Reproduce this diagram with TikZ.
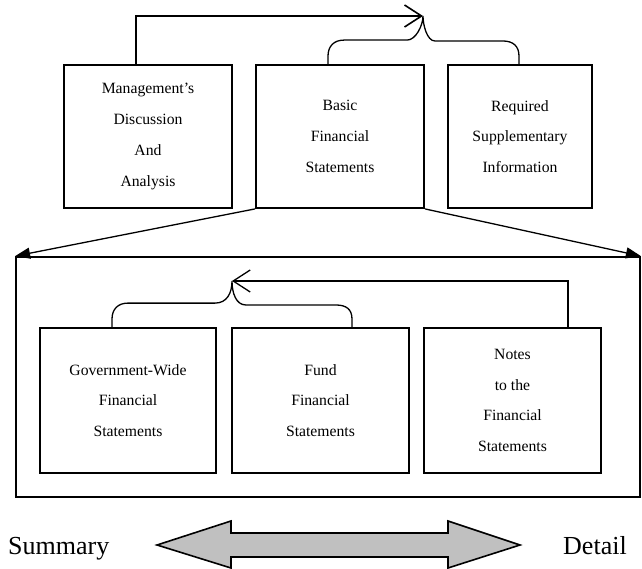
\documentclass[tikz,border=0pt]{standalone}
\usepackage{fontspec}
\setmainfont{Liberation Serif}
\usetikzlibrary{arrows.meta,calc}
\definecolor{arrowgray}{HTML}{C0C0C0}
\begin{document}
\begin{tikzpicture}[x=1pt,y=-1pt,
  box/.style={draw, line width=1.8pt, inner sep=0pt, align=center,
    font=\fontsize{15.7}{30.7}\selectfont},
  topbox/.style={box, minimum height=143pt},
  innerbox/.style={box, minimum height=145pt, minimum width=177pt},
  conn/.style={line width=1.6pt},
  thin/.style={line width=1.3pt},
  barb/.style={-{Straight Barb[length=17pt,width=22pt]}},
  filltip/.style={-{Triangle[length=15pt,width=11pt]}},
  bigtext/.style={anchor=base west, inner sep=0pt, font=\fontsize{26}{30}\selectfont}
]
\useasboundingbox (0,0) rectangle (642,569);

% top boxes
\node[topbox, minimum width=168pt] (mda) at (148,136.5) {Management’s\\Discussion\\And\\Analysis};
\node[topbox, minimum width=168pt] (basic) at (340,136.5) {Basic\\Financial\\Statements};
\node[topbox, minimum width=144pt] (rsi) at (520,136.5) {Required\\Supplementary\\Information};

% frame
\node[draw, line width=1.8pt, minimum width=624pt, minimum height=240pt, inner sep=0pt] (frame) at (328,377) {};

% inner boxes
\node[innerbox, minimum width=176pt] (gw) at (128,400.5) {Government-Wide\\Financial\\Statements};
\node[innerbox] (fund) at (320.5,400.5) {Fund\\Financial\\Statements};
\node[innerbox] (notes) at (512.5,400.5) {Notes\\to the\\Financial\\Statements};

% top arrow and brace
\coordinate (toptip) at (423,16);
\draw[conn, barb] ($(mda.north)+(-12,0)$) |- (toptip);
\draw[thin] ($(basic.north)+(-12,0)$) -- ++(0,-8)
  .. controls +(0,-10) and +(-10,0) .. ++(16,-16) -- ++(63,0)
  .. controls +(9,0) and +(0,9) .. (toptip)
  .. controls +(0,9) and +(-8,0) .. ++(12,25) -- ++(68,0)
  .. controls +(10,0) and +(0,-10) .. ($(rsi.north)+(-1,-8)$) -- ($(rsi.north)+(-1,0)$);

% slanted arrows
\draw[thin, filltip] (basic.south west) -- (frame.north west);
\draw[thin, filltip] (basic.south east) -- (frame.north east);

% inner arrow and brace
\coordinate (intip) at (232,281);
\draw[thin, barb] ($(notes.north)+(55.5,0)$) |- (intip);
\draw[thin] ($(gw.north)+(-16,0)$) -- ++(0,-8)
  .. controls +(0,-10) and +(-10,0) .. ++(16,-16) -- ++(87,0)
  .. controls +(12,0) and +(0,12) .. (intip)
  .. controls +(0,12) and +(-10,0) .. ++(14,24) -- ++(90,0)
  .. controls +(10,0) and +(0,-10) .. ($(fund.north)+(31.5,-8)$) -- ($(fund.north)+(31.5,0)$);

% bottom double arrow
\draw[line width=1.6pt, fill=arrowgray, line join=miter]
  (157,545) -- (231,521) -- (231,533) -- (448,533) -- (448,521) -- (520,545)
  -- (448,568) -- (448,557) -- (231,557) -- (231,568) -- cycle;
\node[bigtext] (summary) at (8,554) {Summary};
\node[bigtext] (detail) at (563,554) {Detail};
\end{tikzpicture}
\end{document}
